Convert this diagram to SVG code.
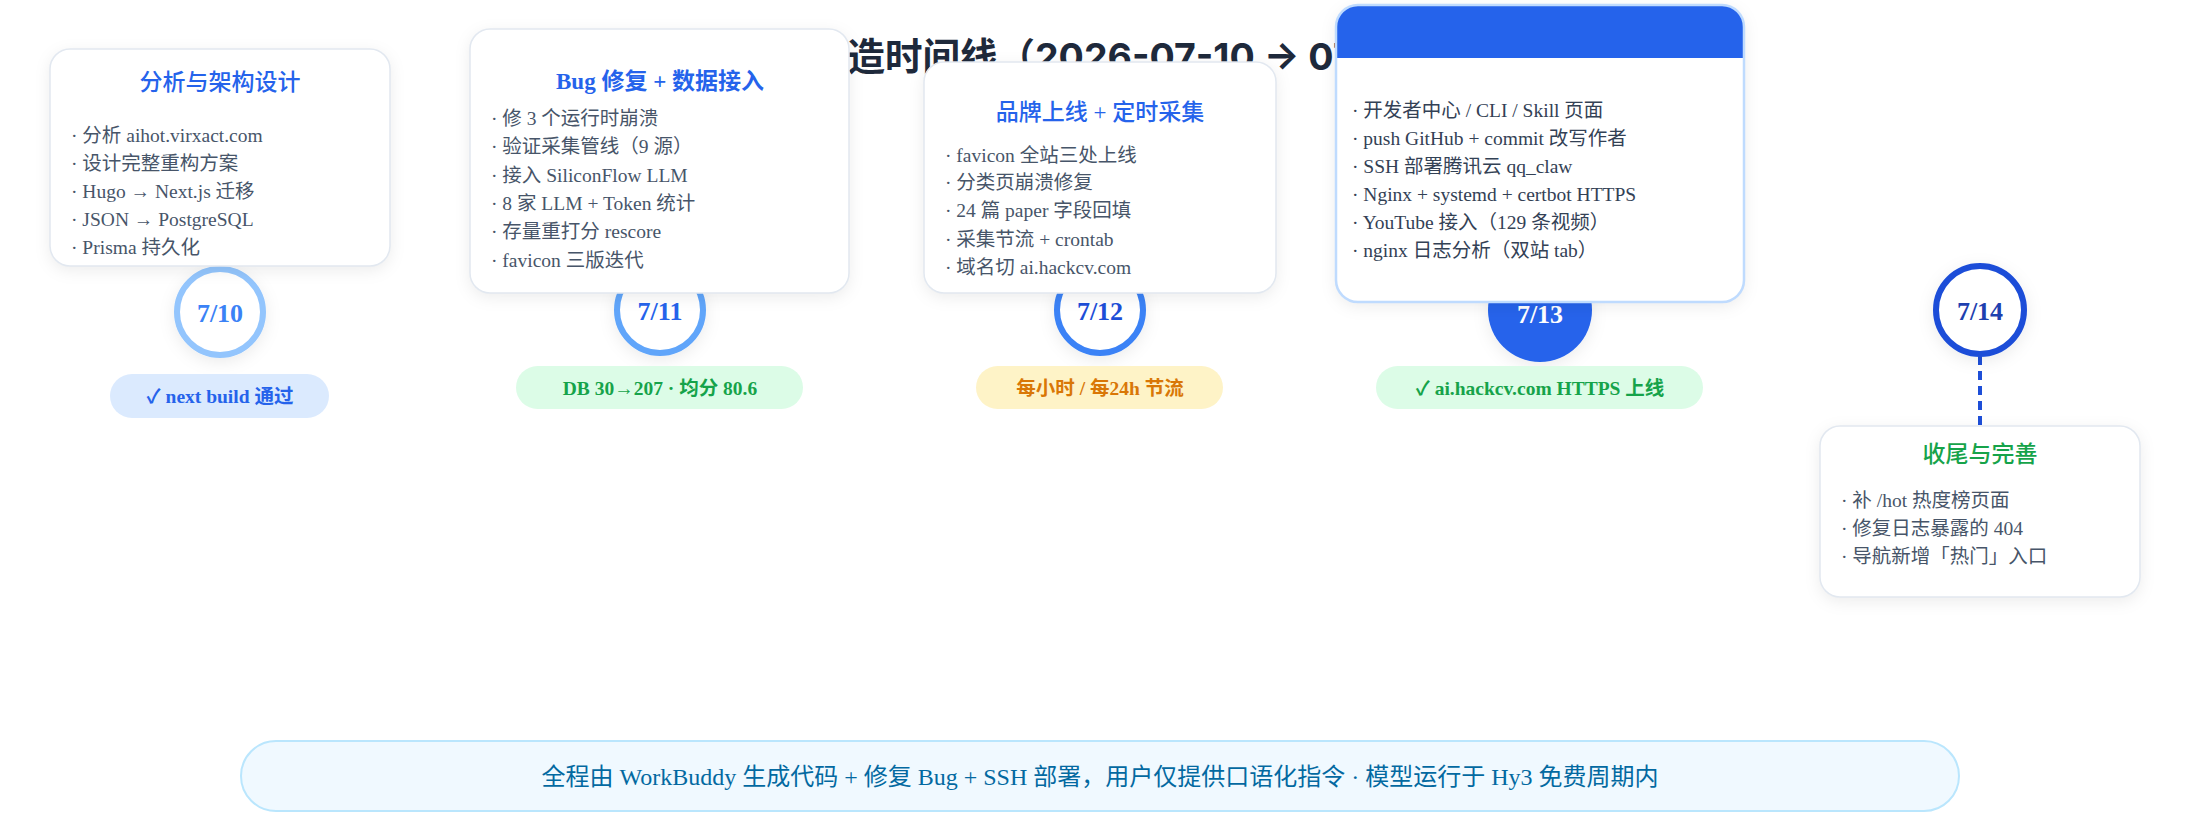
<svg xmlns="http://www.w3.org/2000/svg" width="2200" height="840" viewBox="0 0 2200 840">
<defs>
<filter id="sh" x="-20%" y="-20%" width="140%" height="150%">
<feDropShadow dx="0" dy="4" stdDeviation="8" flood-color="#0f172a" flood-opacity="0.08"/>
</filter>
<style>
.title{font-family:"Inter","Noto Sans CJK SC",sans-serif;font-weight:700;font-size:37.5px;fill:#1e293b}
.card{fill:#ffffff;stroke:#e2e8f0;stroke-width:1.5}
.ctitle{font-family:"Liberation Serif","Noto Sans CJK SC",serif;font-weight:500;font-size:23px;text-anchor:middle}
.bold{font-weight:700}
.item{font-family:"Liberation Serif","Noto Sans CJK SC",serif;font-size:19.5px;fill:#475569}
.dark{fill:#334155}
.date{font-family:"Liberation Serif","Noto Sans CJK SC",serif;font-weight:700;font-size:26px;text-anchor:middle}
.ring{fill:#ffffff;stroke-width:6}
.pill{font-family:"Liberation Serif","Noto Sans CJK SC",serif;font-weight:700;font-size:19.5px;text-anchor:middle}
.foot{font-family:"Liberation Serif","Noto Sans CJK SC",serif;font-size:24px;fill:#0369a1;text-anchor:middle}
</style>
</defs>
<rect width="2200" height="840" fill="#ffffff"/>
<text class="title" x="810" y="70">打造时间线（2026-07-10 → 07-14）</text>

<g id="connectors">
<line x1="1980" y1="356" x2="1980" y2="426" stroke="#1d4ed8" stroke-width="4" stroke-dasharray="9 6"/>
</g>

<g id="d710">
<circle class="ring" cx="220" cy="312" r="43" stroke="#93c5fd" filter="url(#sh)"/>
<text class="date" x="220" y="322" fill="#3b82f6">7/10</text>
</g>
<g id="d711">
<circle class="ring" cx="660" cy="310" r="43" stroke="#60a5fa" filter="url(#sh)"/>
<text class="date" x="660" y="320" fill="#2563eb">7/11</text>
</g>
<g id="d712">
<circle class="ring" cx="1100" cy="310" r="43" stroke="#3b82f6" filter="url(#sh)"/>
<text class="date" x="1100" y="320" fill="#1d4ed8">7/12</text>
</g>
<g id="d713">
<circle cx="1540" cy="310" r="52" fill="#2563eb" filter="url(#sh)"/>
<text class="date" x="1540" y="323" fill="#ffffff">7/13</text>
</g>
<g id="d714">
<circle class="ring" cx="1980" cy="310" r="44" stroke="#1d4ed8" filter="url(#sh)"/>
<text class="date" x="1980" y="320" fill="#1e40af">7/14</text>
</g>

<g id="card1">
<rect x="50" y="49" width="340" height="217" rx="20" fill="#ffffff" filter="url(#sh)"/>
<path d="M50,102 V69 A20,20 0 0 1 70,49 H370 A20,20 0 0 1 390,69 V102 Z" fill="#eff6ff"/>
<rect class="card" x="50" y="49" width="340" height="217" rx="20" fill="none"/>
<text class="ctitle" x="220" y="90" fill="#2563eb">分析与架构设计</text>
<text class="item" x="71" y="142">· 分析 aihot.virxact.com</text>
<text class="item" x="71" y="170">· 设计完整重构方案</text>
<text class="item" x="71" y="198">· Hugo → Next.js 迁移</text>
<text class="item" x="71" y="226">· JSON → PostgreSQL</text>
<text class="item" x="71" y="254">· Prisma 持久化</text>
</g>

<g id="card2">
<rect x="470" y="29" width="379" height="264" rx="20" fill="#ffffff" filter="url(#sh)"/>
<path d="M470,82 V49 A20,20 0 0 1 490,29 H829 A20,20 0 0 1 849,49 V82 Z" fill="#eff6ff"/>
<rect class="card" x="470" y="29" width="379" height="264" rx="20" fill="none"/>
<text class="ctitle bold" x="660" y="89" fill="#2563eb">Bug 修复 + 数据接入</text>
<text class="item" x="491" y="125">· 修 3 个运行时崩溃</text>
<text class="item" x="491" y="153">· 验证采集管线（9 源）</text>
<text class="item" x="491" y="182">· 接入 SiliconFlow LLM</text>
<text class="item" x="491" y="210">· 8 家 LLM + Token 统计</text>
<text class="item" x="491" y="238">· 存量重打分 rescore</text>
<text class="item" x="491" y="267">· favicon 三版迭代</text>
</g>

<g id="card3">
<rect x="924" y="62" width="352" height="231" rx="20" fill="#ffffff" filter="url(#sh)"/>
<path d="M924,114 V82 A20,20 0 0 1 944,62 H1256 A20,20 0 0 1 1276,82 V114 Z" fill="#eff6ff"/>
<rect class="card" x="924" y="62" width="352" height="231" rx="20" fill="none"/>
<text class="ctitle" x="1100" y="120" fill="#2563eb">品牌上线 + 定时采集</text>
<text class="item" x="945" y="162">· favicon 全站三处上线</text>
<text class="item" x="945" y="189">· 分类页崩溃修复</text>
<text class="item" x="945" y="217">· 24 篇 paper 字段回填</text>
<text class="item" x="945" y="246">· 采集节流 + crontab</text>
<text class="item" x="945" y="274">· 域名切 ai.hackcv.com</text>
</g>

<g id="card4">
<rect x="1336" y="5" width="408" height="297" rx="22" fill="#ffffff" filter="url(#sh)"/>
<path d="M1336,58 V27 A22,22 0 0 1 1358,5 H1722 A22,22 0 0 1 1744,27 V58 Z" fill="#2563eb"/>
<rect x="1336" y="5" width="408" height="297" rx="22" fill="none" stroke="#bfdbfe" stroke-width="2.5"/>
<text class="item dark" x="1352" y="117">· 开发者中心 / CLI / Skill 页面</text>
<text class="item dark" x="1352" y="145">· push GitHub + commit 改写作者</text>
<text class="item dark" x="1352" y="173">· SSH 部署腾讯云 qq_claw</text>
<text class="item dark" x="1352" y="201">· Nginx + systemd + certbot HTTPS</text>
<text class="item dark" x="1352" y="229">· YouTube 接入（129 条视频）</text>
<text class="item dark" x="1352" y="257">· nginx 日志分析（双站 tab）</text>
</g>

<g id="card5">
<rect x="1820" y="426" width="320" height="171" rx="20" fill="#ffffff" filter="url(#sh)"/>
<path d="M1820,473 V446 A20,20 0 0 1 1840,426 H2120 A20,20 0 0 1 2140,446 V473 Z" fill="#f0fdf4"/>
<rect class="card" x="1820" y="426" width="320" height="171" rx="20" fill="none"/>
<text class="ctitle" x="1980" y="462" fill="#16a34a">收尾与完善</text>
<text class="item" x="1841" y="507">· 补 /hot 热度榜页面</text>
<text class="item" x="1841" y="535">· 修复日志暴露的 404</text>
<text class="item" x="1841" y="563">· 导航新增「热门」入口</text>
</g>

<g id="pill1">
<rect x="110" y="374" width="219" height="44" rx="22" fill="#dbeafe"/>
<text class="pill" x="220" y="403" fill="#2563eb">✓ next build 通过</text>
</g>
<g id="pill2">
<rect x="516" y="366" width="287" height="43" rx="21.5" fill="#dcfce7"/>
<text class="pill" x="660" y="395" fill="#16a34a">DB 30→207 · 均分 80.6</text>
</g>
<g id="pill3">
<rect x="976" y="366" width="247" height="43" rx="21.5" fill="#fef3c7"/>
<text class="pill" x="1100" y="395" fill="#d97706">每小时 / 每24h 节流</text>
</g>
<g id="pill4">
<rect x="1376" y="366" width="327" height="43" rx="21.5" fill="#dcfce7"/>
<text class="pill" x="1540" y="395" fill="#16a34a">✓ ai.hackcv.com HTTPS 上线</text>
</g>

<g id="footer">
<rect x="241" y="741" width="1718" height="70" rx="35" fill="#f0f9ff" stroke="#bae6fd" stroke-width="2"/>
<text class="foot" x="1100" y="785">全程由 WorkBuddy 生成代码 + 修复 Bug + SSH 部署，用户仅提供口语化指令 · 模型运行于 Hy3 免费周期内</text>
</g>
</svg>
